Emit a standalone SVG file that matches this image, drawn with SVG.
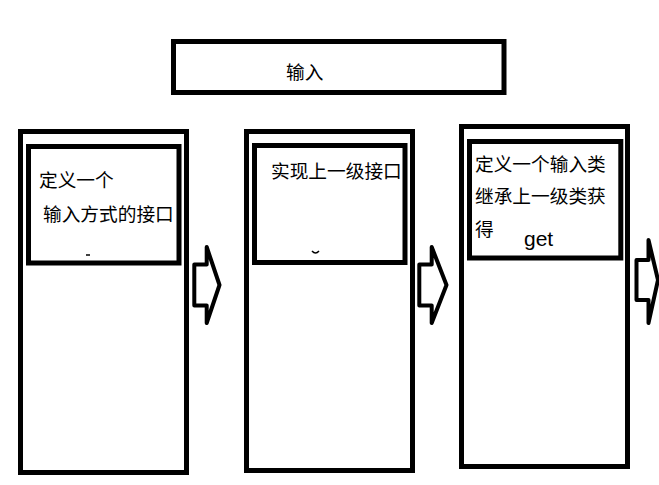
<svg xmlns="http://www.w3.org/2000/svg" width="659" height="485" viewBox="0 0 659 485">
<style>
.box{fill:none;stroke:#000;stroke-width:5}
.inner{fill:none;stroke:#000;stroke-width:5}
.t{font-family:"Noto Sans CJK SC","Liberation Sans",sans-serif;font-size:18.7px;fill:#000}
.en{font-family:"Liberation Sans","Noto Sans",sans-serif;font-size:21px;fill:#000}
.arrow{fill:none;stroke:#000;stroke-width:4;stroke-linejoin:round;stroke-linecap:round}
.mark{fill:none;stroke:#000;stroke-width:1.5}
</style>
<rect width="659" height="485" fill="#fff"/>
<g id="input">
<rect class="box" x="173.5" y="41.5" width="330.5" height="51"/>
<text class="t" x="286" y="79">输入</text>
</g>
<g id="step1">
<rect class="box" x="20.5" y="131.5" width="166" height="341"/>
<rect class="inner" x="28.5" y="146.5" width="150.5" height="116.5"/>
<text class="t" x="39" y="187">定义一个</text>
<text class="t" x="43" y="221">输入方式的接口</text>
<line class="mark" x1="86" y1="255" x2="90" y2="255"/>
</g>
<g id="step2">
<rect class="box" x="246.5" y="131.5" width="166" height="339"/>
<rect class="inner" x="254.5" y="145.5" width="150.5" height="117"/>
<text class="t" x="271" y="178">实现上一级接口</text>
<path class="mark" d="M312,251 Q315.5,255 319,251"/>
</g>
<g id="step3">
<rect class="box" x="461.5" y="126.5" width="166" height="340"/>
<rect class="inner" x="469.5" y="141.5" width="151.3" height="116.5"/>
<text class="t" x="475" y="171">定义一个输入类</text>
<text class="t" x="475" y="203">继承上一级类获</text>
<text class="t" x="475" y="236">得</text>
<text class="en" x="524" y="246">get</text>
</g>
<g id="connectors">
<path class="arrow" d="M194.3,264.5 L206.7,264.5 L206.7,247 L219.5,285 L206.7,323 L206.7,305.5 L194.3,305.5 Z"/>
<path class="arrow" d="M419.3,264.5 L431.7,264.5 L431.7,247 L446.5,285 L431.7,323 L431.7,305.5 L419.3,305.5 Z"/>
<path class="arrow" d="M636.5,260 L648.5,260 L648.5,240 L658,280 L648.5,323 L648.5,300 L636.5,300 Z"/>
</g>
</svg>
